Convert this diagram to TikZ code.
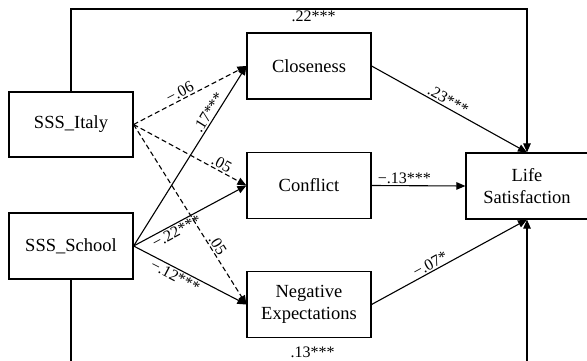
\documentclass[tikz,border=0pt]{standalone}
\usepackage{fontspec}
\setmainfont{Liberation Serif}
\usetikzlibrary{arrows.meta,calc}
\tikzset{
  var/.style={rectangle,draw=black,line width=1.2pt,minimum width=124pt,minimum height=66pt,
    inner sep=0pt,align=center,font=\fontsize{18.5}{22}\selectfont},
  arrow/.style={-{Triangle[length=9pt,width=7.5pt]},line width=1.1pt,draw=black},
  dasharrow/.style={arrow,dash pattern=on 5pt off 3pt},
  coef/.style={font=\fontsize{16}{18}\selectfont,inner sep=1.5pt,sloped}
}

\begin{document}
\begin{tikzpicture}[x=1pt,y=-1pt]
\useasboundingbox (0,0) rectangle (587,361);
\node[var,minimum height=65pt] (italy) at (71,124.5) {SSS\_Italy};
\node[var] (school) at (71,246) {SSS\_School};
\node[var] (closeness) at (309,66) {Closeness};
\node[var] (conflict) at (309,185.5) {Conflict};
\node[var] (negexp) at (309,304.5) {Negative\\Expectations};
\node[var,minimum width=122pt] (life) at (527,186) {Life\\Satisfaction};
\coordinate (topbend) at (527,9);
\coordinate (botbend) at (527,362.5);
% direct paths
\draw[arrow] (italy.north) |- node[coef,pos=0.766,below]{.22***} (topbend) -- (life.north);
\draw[arrow] (school.south) |- node[coef,pos=0.765,above,yshift=2.5pt]{.13***} (botbend) -- (life.south);
% SSS_Italy to mediators
\draw[dasharrow] (italy.east) -- node[coef,pos=0.44,above]{−.06} (closeness.west);
\draw[dasharrow] (italy.east) -- node[coef,pos=0.75,above]{.05} (conflict.west);
\draw[dasharrow] (italy.east) -- node[coef,pos=0.69,above]{.05} (negexp.west);
% SSS_School to mediators
\draw[arrow] (school.east) -- node[coef,pos=0.72,above]{.17***} (closeness.west);
\draw[arrow] (school.east) -- node[coef,pos=0.35,below]{−.22***} (conflict.west);
\draw[arrow] (school.east) -- node[coef,pos=0.4,below]{−.12***} (negexp.west);
% mediators to life satisfaction
\draw[arrow] (closeness.east) -- node[coef,pos=0.47,above]{.23***} (life.north);
\draw[arrow] (conflict.east) -- node[coef,pos=0.35,above]{−.13***} (life.west);
\draw[arrow] (negexp.east) -- node[coef,pos=0.4,above]{−.07*} (life.south);
\end{tikzpicture}
\end{document}
